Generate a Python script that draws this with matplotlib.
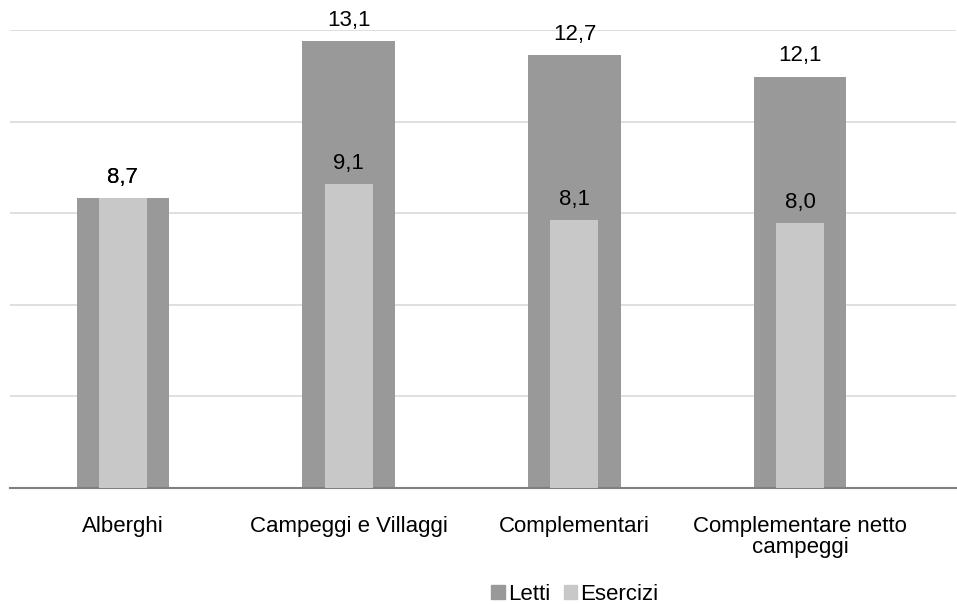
import matplotlib.pyplot as plt
import matplotlib.patches as mpatches
import numpy as np

plt.rcParams['font.family'] = ['Liberation Sans', 'DejaVu Sans']

categories = ['Alberghi', 'Campeggi e Villaggi', 'Complementari', 'Complementare netto\ncampeggi']
letti = [8.7, 13.1, 12.7, 12.1]
esercizi = [8.7, 9.1, 8.1, 8.0]

dark = '#999999'
light = '#c8c8c8'
fs = 16

fig = plt.figure(figsize=(9.57, 6.04), dpi=100)
ax = fig.add_axes([10 / 957, 116 / 604, 946 / 957, 458 / 604])

x = np.arange(len(categories))
ax.bar(x, letti, width=0.41, color=dark, zorder=2)
ax.bar(x, esercizi, width=0.213, color=light, zorder=3)

ax.set_ylim(0.6, 13.4)
ax.set_xlim(-0.5, 3.69)
ax.set_yticks(np.linspace(0.6, 13.4, 6))
ax.yaxis.grid(True, color='#d9d9d9', linewidth=1.2, zorder=0)
ax.tick_params(axis='y', left=False, labelleft=False)
ax.tick_params(axis='x', bottom=False, labelsize=fs, pad=17)
ax.set_xticks(x)
ax.set_xticklabels(categories, linespacing=1.0, va='top')

for s in ['top', 'right', 'left']:
    ax.spines[s].set_visible(False)
ax.spines['bottom'].set_color('#808080')
ax.spines['bottom'].set_linewidth(1.5)

# value labels above each bar
for xi, v in zip(x, letti):
    ax.text(xi, v + 0.28, f'{v:.1f}'.replace('.', ','), ha='center', va='bottom', fontsize=fs, zorder=4)
for xi, v in zip(x, esercizi):
    ax.text(xi, v + 0.28, f'{v:.1f}'.replace('.', ','), ha='center', va='bottom', fontsize=fs, zorder=4)

handles = [mpatches.Patch(color=dark, label='Letti'), mpatches.Patch(color=light, label='Esercizi')]
fig.legend(handles=handles, loc='center', bbox_to_anchor=(575 / 957, 1 - 594 / 604), ncol=2,
           frameon=False, fontsize=fs, handlelength=0.6, handleheight=0.6,
           handletextpad=0.15, columnspacing=0.6, borderpad=0.1)

fig.savefig('out.png', dpi=100, facecolor='white')
